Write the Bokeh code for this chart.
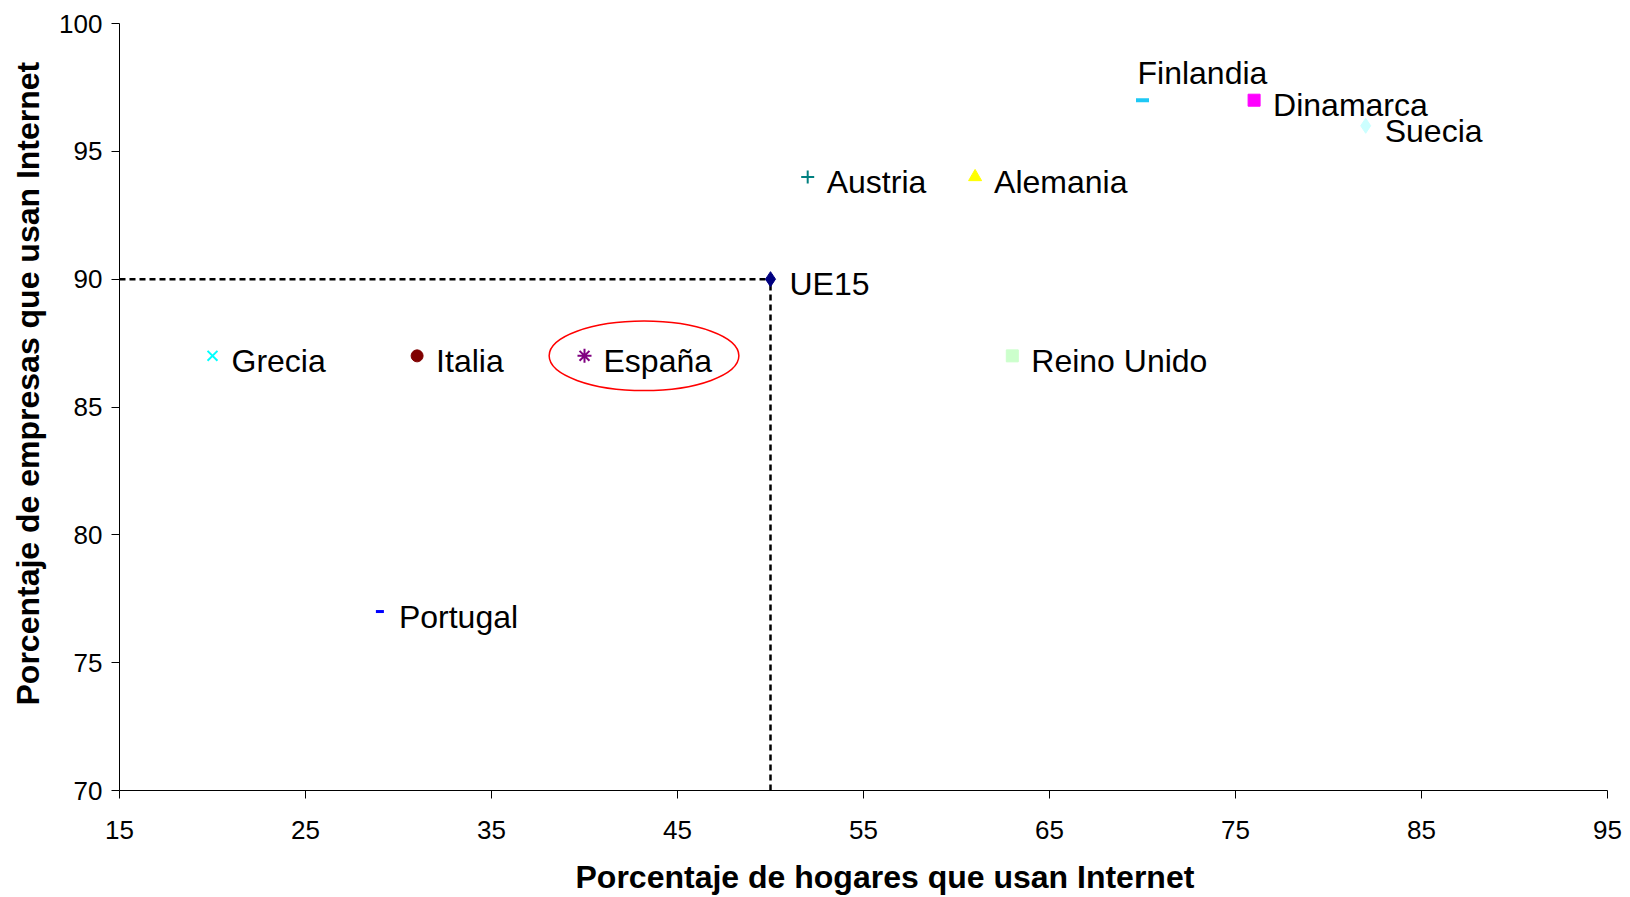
from bokeh.plotting import figure
from bokeh.models import Range1d, FixedTicker, Title
from bokeh.core.properties import value
from bokeh.embed import file_html
from bokeh.resources import INLINE

# ---- data ----
countries = ["Finlandia", "Dinamarca", "Suecia", "Austria", "Alemania", "UE15",
             "Grecia", "Italia", "España", "Reino Unido", "Portugal"]
hogares = [70, 76, 82, 52, 61, 50, 20, 31, 40, 63, 29]
empresas = [97, 97, 96, 94, 94, 90, 87, 87, 87, 87, 77]
x_ticks = [15, 25, 35, 45, 55, 65, 75, 85, 95]
y_ticks = [70, 75, 80, 85, 90, 95, 100]
x_title = "Porcentaje de hogares que usan Internet"
y_title = "Porcentaje de empresas que usan Internet"
ue15_ref_x = 50
ue15_ref_y = 90
# highlight ellipse around España
hl_x, hl_y, hl_w, hl_h = 43.2, 87.0, 10.2, 2.72

# ---- styles ----
styles = {
    "Finlandia":   dict(marker="dash", color="#1EC8F5", size=13, lw=4),
    "Dinamarca":   dict(marker="square", color="#FF00FF", size=12, lw=1),
    "Suecia":      dict(marker="diamond", color="#CCFFFF", size=15, lw=1),
    "Austria":     dict(marker="cross", color="#008080", size=13, lw=2),
    "Alemania":    dict(marker="triangle", color="#FFFF00", size=13, lw=1),
    "UE15":        dict(marker="diamond", color="#000080", size=15, lw=1),
    "Grecia":      dict(marker="x", color="#00FFFF", size=14, lw=2),
    "Italia":      dict(marker="circle", color="#800000", size=12, lw=1),
    "España":      dict(marker="asterisk", color="#800080", size=14, lw=2),
    "Reino Unido": dict(marker="square", color="#CCFFCC", size=12, lw=1),
    "Portugal":    dict(marker="dash", color="#0000FF", size=8, lw=3),
}
label_offsets = {"Finlandia": (-5, -27)}
FONT = "Liberation Sans"
W, H = 1622, 897
BL, BT, BR, BB = 119, 23, 15, 107   # borders around the plot frame

p = figure(width=W, height=H, output_backend="svg", toolbar_location=None,
           x_range=Range1d(15, 95), y_range=Range1d(70, 100),
           min_border_left=BL, min_border_right=BR, min_border_top=BT, min_border_bottom=BB)
p.outline_line_color = None
p.grid.visible = False
p.background_fill_color = "white"
p.border_fill_color = "white"

# reference dashed lines
p.line(x=[x_ticks[0], ue15_ref_x], y=[ue15_ref_y, ue15_ref_y], line_color="black",
       line_width=2.5, line_dash="6 4")
p.line(x=[ue15_ref_x, ue15_ref_x], y=[y_ticks[0], ue15_ref_y], line_color="black",
       line_width=2.5, line_dash="6 4")

# markers and labels
for c, xv, yv in zip(countries, hogares, empresas):
    st = styles[c]
    if st["marker"] in ("dash", "cross", "x", "asterisk"):
        p.scatter(x=[xv], y=[yv], marker=st["marker"], size=st["size"],
                  line_color=st["color"], line_width=st["lw"])
    else:
        p.scatter(x=[xv], y=[yv], marker=st["marker"], size=st["size"],
                  fill_color=st["color"], line_color=st["color"], line_width=st["lw"])
    dx, dy = label_offsets.get(c, (19, 5))
    p.text(x=[xv], y=[yv], text=[c], x_offset=dx, y_offset=dy,
           text_font=value(FONT), text_font_size="32px", text_color="black",
           text_baseline="middle", text_align="left")

# highlight ellipse
p.ellipse(x=[hl_x], y=[hl_y], width=[hl_w], height=[hl_h], fill_color=None,
          line_color="#FF0000", line_width=1.5)

for ax in (p.xaxis[0], p.yaxis[0]):
    ax.axis_line_color = "black"
    ax.axis_line_width = 1
    ax.major_tick_line_color = "black"
    ax.major_tick_out = 8
    ax.major_tick_in = 0
    ax.minor_tick_out = 0
    ax.minor_tick_in = 0
    ax.major_label_text_font = FONT
    ax.major_label_text_font_size = "26px"
    ax.major_label_text_color = "black"

p.xaxis[0].ticker = FixedTicker(ticks=x_ticks)
p.yaxis[0].ticker = FixedTicker(ticks=y_ticks)
p.xaxis[0].major_label_standoff = 22
p.yaxis[0].major_label_standoff = 9
# invisible spacer label so the x title sits lower
p.xaxis[0].axis_label = " "
p.xaxis[0].axis_label_text_font_size = "1px"
p.xaxis[0].axis_label_standoff = 13

# axis titles as side titles, positioned along the axis with an offset
p.add_layout(Title(text=x_title, align="left", offset=456, vertical_align="top",
                   standoff=0, text_font=FONT, text_font_style="bold",
                   text_font_size="32px", text_color="black"), "below")
p.add_layout(Title(text=y_title, align="left", offset=85, vertical_align="top",
                   standoff=17, text_font=FONT, text_font_style="bold",
                   text_font_size="32px", text_color="black"), "left")

open("out.html", "w").write(file_html(p, INLINE))
